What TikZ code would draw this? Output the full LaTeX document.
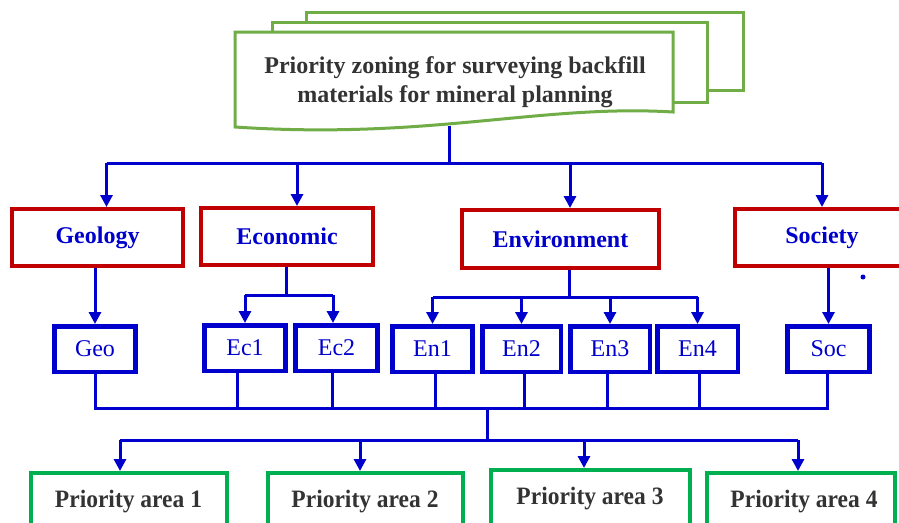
\documentclass[tikz,border=0pt]{standalone}
\usepackage{fontspec}
\setmainfont{Liberation Serif}
\usetikzlibrary{arrows.meta}
\definecolor{cblue}{HTML}{0000CC}
\definecolor{cred}{HTML}{C00000}
\definecolor{cgreen}{HTML}{00B050}
\definecolor{cdoc}{HTML}{70AD47}
\definecolor{ctext}{HTML}{333333}
\tikzset{
  conn/.style={draw=cblue, line width=3pt},
  arr/.style={conn, -{Triangle[length=12pt,width=12pt]}},
  redbox/.style={draw=cred, line width=4pt, fill=white, minimum height=57pt, inner sep=0pt,
    font=\fontsize{24}{28}\selectfont\bfseries, text=cblue},
  bluebox/.style={draw=cblue, line width=4.5pt, fill=white, minimum height=45.5pt, minimum width=81pt, inner sep=0pt,
    font=\fontsize{24}{28}\selectfont, text=cblue},
  greenbox/.style={draw=cgreen, line width=4pt, fill=white, minimum height=60pt, minimum width=196pt, inner sep=0pt,
    text=ctext},
  greenlabel/.style={font=\fontsize{25}{28}\selectfont\bfseries, text=ctext, xscale=0.94},
  docshape/.style={draw=cdoc, line width=3pt, fill=white}
}
\begin{document}
\begin{tikzpicture}[x=1pt,y=-1pt]
\useasboundingbox[fill=white] (0,0) rectangle (899,522);
% stacked document shape
\draw[docshape] (306,12) rectangle (743,90);
\draw[docshape] (272,22) rectangle (707,102);
\draw[docshape] (235,32) -- (673,32) -- (673,112)
   .. controls (540,104) and (430,140) .. (235,127) -- cycle;
\node[font=\fontsize{24}{29}\selectfont\bfseries, text=ctext, align=center] (title) at (455,82)
  {Priority zoning for surveying backfill\\materials for mineral planning};
\coordinate (docb) at (449,126);
\coordinate (top) at (449,163);
% main categories
\node[redbox, minimum width=171pt] (geol) at (97.5,237.5) {Geology};
\node[redbox, minimum width=172pt, text depth=-4pt] (econ) at (287,236.5) {Economic};
\node[redbox, minimum width=197pt, minimum height=58pt] (envi) at (560.5,239) {Environment};
\node[redbox, minimum width=174pt] (soci) at (822,237.5) {Society};
% sub-criteria
\node[bluebox] (geo) at (95,349) {Geo};
\node[bluebox] (ec1) at (245,348) {Ec1};
\node[bluebox, minimum width=82pt] (ec2) at (336.5,348) {Ec2};
\node[bluebox, minimum width=80pt] (en1) at (432.5,349) {En1};
\node[bluebox, minimum width=78.5pt] (en2) at (521.5,349) {En2};
\node[bluebox, minimum width=79.5pt] (en3) at (610,349) {En3};
\node[bluebox, minimum width=80.5pt] (en4) at (697.5,349) {En4};
\node[bluebox, minimum width=82pt] (soc) at (828.5,349) {Soc};
% priority areas
\node[greenbox] (pa1) at (129,503) {};
\node[greenbox, minimum width=195pt] (pa2) at (365.5,503) {};
\node[greenbox, minimum width=199pt] (pa3) at (590.5,500) {};
\node[greenbox, minimum width=188pt] (pa4) at (800.5,503) {};
\node[greenlabel] (pa1t) at (128.5,502) {Priority area 1};
\node[greenlabel] (pa2t) at (365,502) {Priority area 2};
\node[greenlabel] (pa3t) at (590,499) {Priority area 3};
\node[greenlabel] (pa4t) at (804,502) {Priority area 4};
% top connectors
\draw[conn] (docb) -- (top);
\draw[conn] ([xshift=9pt]geol.north |- top) -- (soci.north |- top);
\draw[arr] ([xshift=9pt]geol.north |- top) -- ([xshift=9pt]geol.north);
\draw[arr] ([xshift=10pt]econ.north |- top) -- ([xshift=10pt]econ.north);
\draw[arr] ([xshift=9.5pt]envi.north |- top) -- ([xshift=9.5pt]envi.north);
\draw[arr] (soci.north |- top) -- (soci.north);
% geology
\draw[arr] (geol.south -| geo.north) -- (geo.north);
% economic
\coordinate (ecj) at (286,295);
\draw[conn] (econ.south -| ecj) -- (ecj);
\draw[conn] (ec1.north |- ecj) -- ([xshift=-3.5pt]ec2.north |- ecj);
\draw[arr] (ec1.north |- ecj) -- (ec1.north);
\draw[arr] ([xshift=-3.5pt]ec2.north |- ecj) -- ([xshift=-3.5pt]ec2.north);
% environment
\coordinate (enj) at (569,297);
\draw[conn] (envi.south -| enj) -- (enj);
\draw[conn] (en1.north |- enj) -- (en4.north |- enj);
\draw[arr] (en1.north |- enj) -- (en1.north);
\draw[arr] (en2.north |- enj) -- (en2.north);
\draw[arr] (en3.north |- enj) -- (en3.north);
\draw[arr] (en4.north |- enj) -- (en4.north);
% society
\draw[arr] (soci.south -| soc.north) -- (soc.north);
\fill[cblue] (863,277) circle (2.5pt);
% collecting bus
\coordinate (bus) at (487,408);
\coordinate (dist) at (487,440);
\draw[conn] (geo.south) |- (bus) -| ([xshift=-1.5pt]soc.south);
\draw[conn] ([xshift=-8pt]ec1.south) -- ([xshift=-8pt]ec1.south |- bus);
\draw[conn] ([xshift=-4.5pt]ec2.south) -- ([xshift=-4.5pt]ec2.south |- bus);
\draw[conn] ([xshift=2.5pt]en1.south) -- ([xshift=2.5pt]en1.south |- bus);
\draw[conn] ([xshift=2.5pt]en2.south) -- ([xshift=2.5pt]en2.south |- bus);
\draw[conn] ([xshift=-3pt]en3.south) -- ([xshift=-3pt]en3.south |- bus);
\draw[conn] ([xshift=1.5pt]en4.south) -- ([xshift=1.5pt]en4.south |- bus);
\draw[conn] (bus) -- (dist);
\draw[conn] ([xshift=-9pt]pa1.north |- dist) -- ([xshift=-2.5pt]pa4.north |- dist);
\draw[arr] ([xshift=-9pt]pa1.north |- dist) -- ([xshift=-9pt]pa1.north);
\draw[arr] ([xshift=-5.5pt]pa2.north |- dist) -- ([xshift=-5.5pt]pa2.north);
\draw[arr] ([xshift=-6.5pt]pa3.north |- dist) -- ([xshift=-6.5pt]pa3.north);
\draw[arr] ([xshift=-2.5pt]pa4.north |- dist) -- ([xshift=-2.5pt]pa4.north);
\end{tikzpicture}
\end{document}
